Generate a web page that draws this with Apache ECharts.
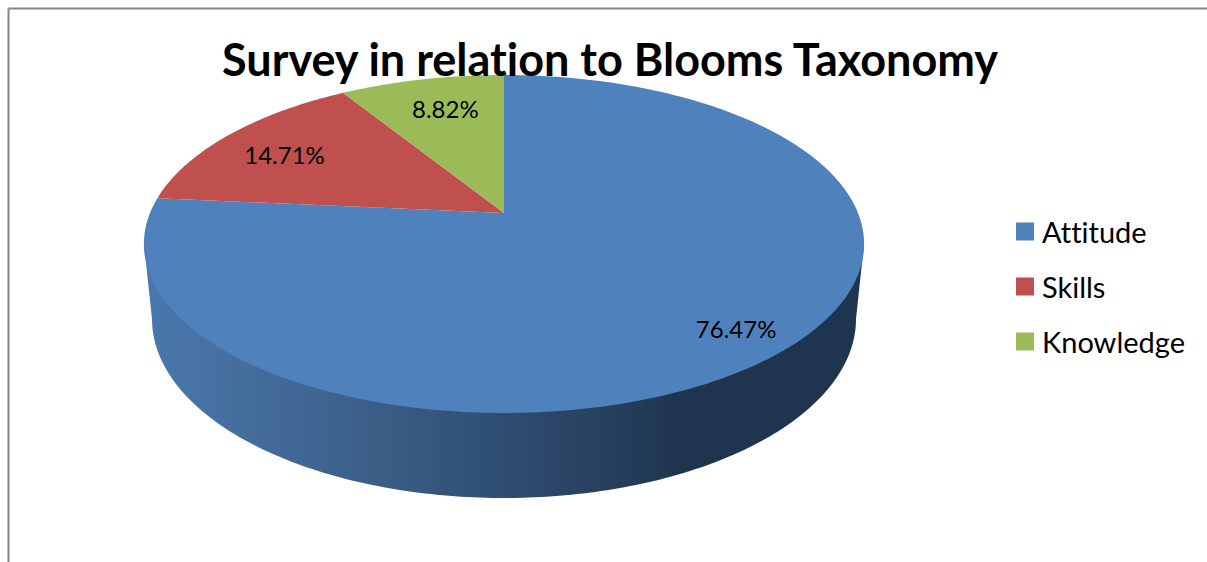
<!DOCTYPE html>
<html>
<head>
<meta charset="utf-8">
<title>Survey in relation to Blooms Taxonomy</title>
<script src="https://cdn.jsdelivr.net/npm/echarts@6/dist/echarts.min.js"></script>
<style>
  html, body { margin: 0; padding: 0; background: #fff; }
  #chart { width: 1207px; height: 562px; }
  #chart text { font-variant-ligatures: none !important; }
</style>
</head>
<body>
<div id="chart"></div>
<script>
// Survey shares, in percent
const categories = ['Attitude', 'Skills', 'Knowledge'];
const shares = [76.47, 14.71, 8.82];
const sliceColors = ['#4f81bd', '#c0504d', '#9bbb59'];
const chartTitle = 'Survey in relation to Blooms Taxonomy';

// Tilted disc: the apex sits above the middle of the ellipse because of the perspective
const APEX_X = 504, APEX_Y = 213;
const SPREAD = 354, TOWARD_BACK = -124.24, TILT = 0.1834;
// Outline of the rim, as an upper and a lower ellipse
const RIM_TOP = { cx: 504, cy: 244, rx: 360, ry: 169 };
const RIM_BOTTOM = { cx: 504, cy: 319, rx: 352, ry: 179 };
// How far out along its slice each label sits, with a small pixel nudge
const labelPlacement = [
  { radius: 0.86, dx: 0, dy: -2 },
  { radius: 0.75, dx: -9, dy: 2 },
  { radius: 0.73, dx: 4, dy: -3 }
];

const FONT = 'Lato, "Open Sans", sans-serif';

// Project a point of the unit disc to the screen; clock is the share of a turn from 12 o'clock
function project(clock, radius) {
  const a = clock / 100 * 2 * Math.PI;
  const u = radius * Math.sin(a), v = radius * Math.cos(a);
  const d = 1 + TILT * v;
  return [APEX_X + SPREAD * u / d, (APEX_Y + TOWARD_BACK * v) / d];
}

function rimWall() {
  const pts = [];
  for (let i = 0; i <= 180; i++) {
    const t = Math.PI * i / 180;
    pts.push([RIM_BOTTOM.cx - RIM_BOTTOM.rx * Math.cos(t), RIM_BOTTOM.cy + RIM_BOTTOM.ry * Math.sin(t)]);
  }
  pts.push([RIM_TOP.cx + RIM_TOP.rx, RIM_TOP.cy]);
  pts.unshift([RIM_TOP.cx - RIM_TOP.rx, RIM_TOP.cy]);
  return pts;
}

function sliceRenderer(index) {
  return function (params, api) {
    const start = api.value(0), size = api.value(1);
    const pts = [[APEX_X, APEX_Y]];
    const steps = Math.max(8, Math.round(size * 4));
    for (let i = 0; i <= steps; i++) pts.push(project(start + size * i / steps, 1));

    const children = [];
    if (index === 0) {
      children.push({
        type: 'polygon',
        shape: { points: rimWall() },
        style: {
          fill: new echarts.graphic.LinearGradient(0, 0, 1, 0, [
            { offset: 0, color: '#4a78ad' },
            { offset: 0.12, color: '#466f9f' },
            { offset: 0.33, color: '#3a5d86' },
            { offset: 0.5, color: '#2f4d71' },
            { offset: 0.7, color: '#233a56' },
            { offset: 0.74, color: '#1f344e' },
            { offset: 1, color: '#1f344e' }
          ])
        }
      });
    }
    children.push({
      type: 'polygon',
      shape: { points: pts },
      style: { fill: sliceColors[index] }
    });
    const place = labelPlacement[index];
    const at = project(start + size / 2, place.radius);
    children.push({
      type: 'text',
      z2: 10,
      style: {
        x: at[0] + place.dx,
        y: at[1] + place.dy,
        text: size.toFixed(2) + '%',
        fill: '#000',
        font: '24px ' + FONT,
        align: 'center',
        verticalAlign: 'middle'
      }
    });
    return { type: 'group', children: children };
  };
}

let running = 0;
const series = categories.map(function (name, i) {
  const item = [running, shares[i]];
  running += shares[i];
  return {
    name: name,
    type: 'custom',
    coordinateSystem: 'none',
    clip: false,
    silent: true,
    itemStyle: { color: sliceColors[i] },
    renderItem: sliceRenderer(i),
    data: [item]
  };
});

const chart = echarts.init(document.getElementById('chart'), null, { renderer: 'svg' });
chart.setOption({
  animation: false,
  backgroundColor: '#fff',
  title: {
    text: chartTitle,
    left: 217,
    top: 31,
    textStyle: { fontFamily: FONT, fontWeight: 'bold', fontSize: 45, color: '#000' }
  },
  legend: {
    orient: 'vertical',
    left: 1011,
    top: 212,
    icon: 'rect',
    itemWidth: 18,
    itemHeight: 18,
    itemGap: 26,
    selectedMode: false,
    data: categories,
    textStyle: { fontFamily: FONT, fontSize: 29, color: '#000', padding: [0, 0, 0, 3] }
  },
  // Chart area border, cut off by the page on the right and at the bottom
  graphic: [
    { type: 'line', silent: true, shape: { x1: 8.5, y1: 8.5, x2: 1207, y2: 8.5 }, style: { stroke: '#868686', lineWidth: 2 } },
    { type: 'line', silent: true, shape: { x1: 8.5, y1: 8.5, x2: 8.5, y2: 562 }, style: { stroke: '#868686', lineWidth: 2 } }
  ],
  series: series
});
</script>
</body>
</html>
